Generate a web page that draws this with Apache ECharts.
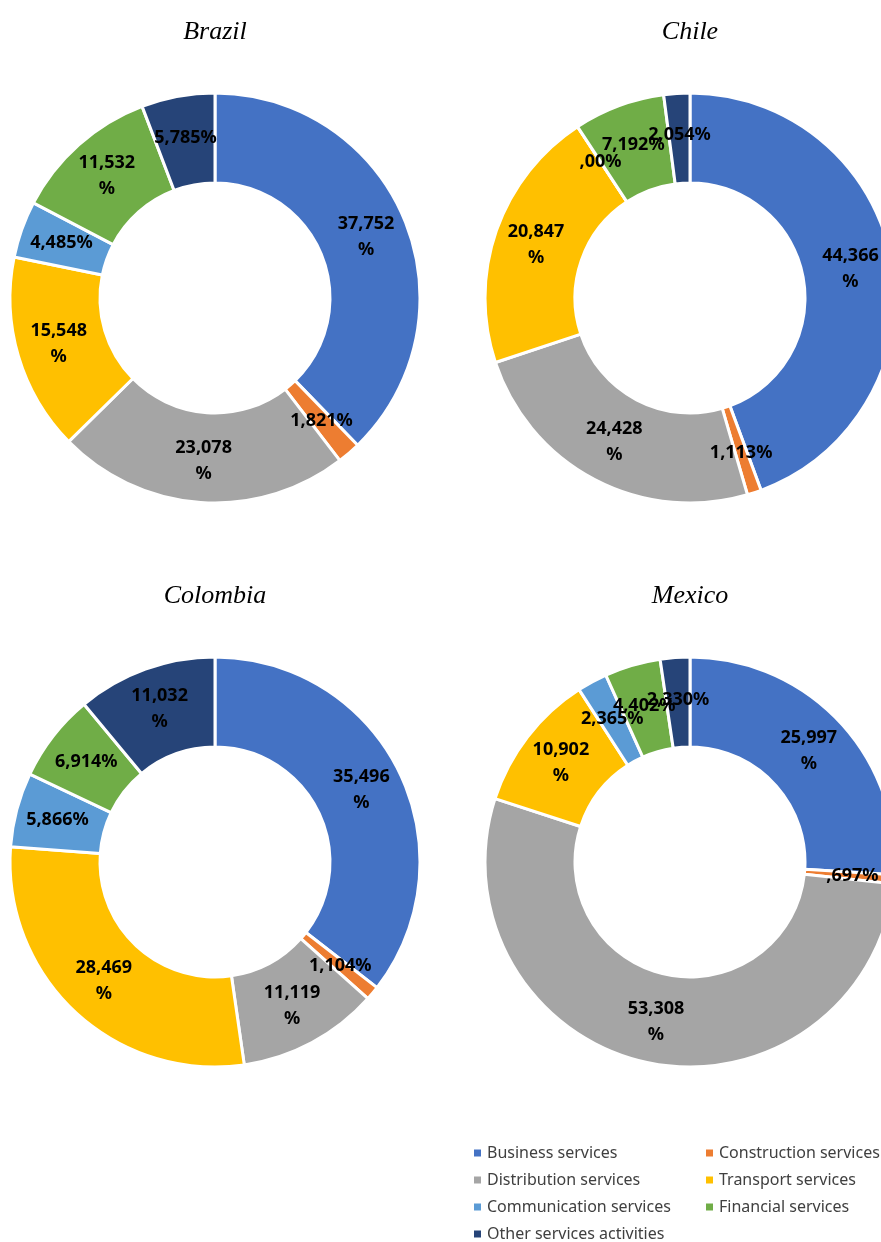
<!DOCTYPE html>
<html>
<head>
<meta charset="utf-8">
<script src="https://cdn.jsdelivr.net/npm/echarts@6/dist/echarts.min.js"></script>
<style>
html,body{margin:0;padding:0;background:#fff;}
#chart{width:881px;height:1242px;}
</style>
</head>
<body>
<div id="chart"></div>
<script>
var sectors = ['Business services', 'Construction services', 'Distribution services',
  'Transport services', 'Communication services', 'Financial services', 'Other services activities'];
var countries = ['Brazil', 'Chile', 'Colombia', 'Mexico'];
var brazil = [37.752, 1.821, 23.078, 15.548, 4.485, 11.532, 5.785];
var chile = [44.366, 1.113, 24.428, 20.847, 0, 7.192, 2.054];
var colombia = [35.496, 1.104, 11.119, 28.469, 5.866, 6.914, 11.032];
var mexico = [25.997, 0.697, 53.308, 10.902, 2.365, 4.402, 2.330];
var colors = ['#4472C4', '#ED7D31', '#A5A5A5', '#FFC000', '#5B9BD5', '#70AD47', '#264478'];

var values = [brazil, chile, colombia, mexico];
var centers = [[215, 298], [690, 298], [215, 862], [690, 862]];
var titleTops = [14, 14, 578, 578];

// excel-style label: comma decimal, no leading zero, wrap "%" on big slices
function fmt(v) {
  if (v === 0) return ',00%';
  var s = v.toFixed(3).replace('.', ',');
  if (s.charAt(0) === '0') s = s.substring(1);
  return v >= 10 ? s + '\n%' : s + '%';
}

var chart = echarts.init(document.getElementById('chart'));

var titles = [], series = [];
countries.forEach(function (c, i) {
  titles.push({
    text: c,
    left: centers[i][0] - 5,
    top: titleTops[i],
    textAlign: 'center',
    textStyle: {fontFamily: 'Liberation Serif', fontStyle: 'italic', fontWeight: 'normal', fontSize: 26, color: '#000'}
  });
  series.push({
    name: c,
    type: 'pie',
    center: centers[i],
    radius: [115, 205],
    startAngle: 90,
    clockwise: true,
    silent: true,
    avoidLabelOverlap: false,
    labelLayout: {hideOverlap: false},
    itemStyle: {borderColor: '#fff', borderWidth: 3},
    label: {
      position: 'inside',
      formatter: function (p) { return fmt(p.value); },
      fontFamily: 'Noto Sans',
      fontWeight: 'bold',
      fontSize: 18,
      lineHeight: 26,
      color: '#000'
    },
    labelLine: {show: false},
    data: sectors.map(function (s, k) { return {name: s, value: values[i][k]}; })
  });
});

// legend: two columns, one legend per entry so the columns line up
var legendStyle = {fontFamily: 'Noto Sans', fontSize: 16, color: '#404040'};
var legendCols = [472, 704];
var legendRows = [1153, 1180, 1207, 1234];
var legends = sectors.map(function (s, k) {
  return {
    orient: 'horizontal',
    left: legendCols[k % 2],
    top: legendRows[Math.floor(k / 2)] - 8,
    padding: 0,
    itemWidth: 9, itemHeight: 9, icon: 'rect',
    textStyle: legendStyle,
    data: [s]
  };
});

chart.setOption({
  color: colors,
  animation: false,
  title: titles,
  legend: legends,
  series: series
});
</script>
</body>
</html>
